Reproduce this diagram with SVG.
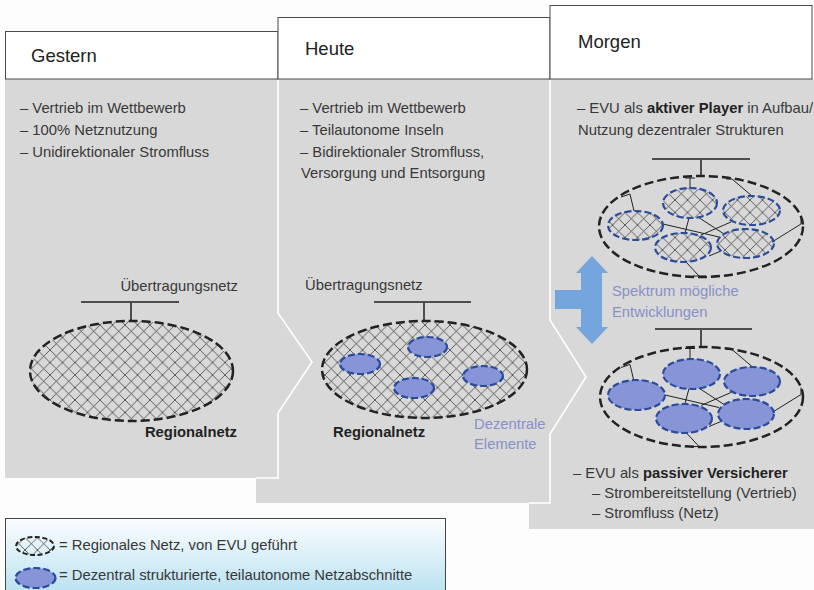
<svg xmlns="http://www.w3.org/2000/svg" width="814" height="590" viewBox="0 0 814 590">
<style>
text{font-family:"Liberation Sans",Arial,sans-serif;font-size:14.8px;fill:#383838}
.ht{font-size:18.5px;fill:#222}
.b{font-weight:bold;fill:#222}
.bl{fill:#8791c6}
.hdr{fill:#fff;stroke:#4a4a4a;stroke-width:1}
.sep{fill:none;stroke:#fff;stroke-width:1.6}
.net{fill:url(#hatch);stroke:#222;stroke-width:2.5;stroke-dasharray:9 4}
.big{fill:none;stroke:#222;stroke-width:2.5;stroke-dasharray:9 4}
.dez{fill:#8795d8;stroke:#2b4b9b;stroke-width:2.2;stroke-dasharray:7 3}
.dezh{fill:url(#hatch);stroke:#2b4b9b;stroke-width:2.2;stroke-dasharray:7 3}
.tl{fill:none;stroke:#4d4d4d;stroke-width:2}
.lk{fill:none;stroke:#222;stroke-width:1}
</style>
<defs>
<pattern id="hatch" patternUnits="userSpaceOnUse" width="12.5" height="12.5">
<path d="M0,0 L12.5,12.5 M12.5,0 L0,12.5" stroke="#333" stroke-width="0.75"/>
</pattern>
<linearGradient id="lg" x1="0" y1="0" x2="0" y2="1">
<stop offset="0" stop-color="#fbfdfe"/>
<stop offset="1" stop-color="#b5e0ef"/>
</linearGradient>
<g id="mlinks" class="lk">
<path d="M621,197 L630,194 L634,211 M685,178 L695,178 M690,178 L690,188 M726,179 L732,179 L752,196 M772,242 L801,224 L801,217 M686,262 L699,276 M693,276 L706,276 M663,224 L719,237 M689,218 L685,233 M698,217 L724,234 M701,235 L731,222 M709,256 L721,251"/>
</g>
</defs>

<rect x="0" y="0" width="814" height="590" fill="#fdfdfd"/>

<g id="panels">
<polygon points="5,79 814,79 814,529 529,529 529,503 256,503 256,478 5,478" fill="#d8d8d8"/>
<polyline class="sep" points="278,79 278,313 312,362 278,413 278,478 256,478"/>
<polyline class="sep" points="550,79 550,320 586,377 550,434 550,503 529,503"/>
</g>

<g id="header-gestern">
<rect class="hdr" x="5.5" y="31.5" width="272.5" height="47.5"/>
<text class="ht" x="31" y="62">Gestern</text>
</g>
<g id="header-heute">
<rect class="hdr" x="278" y="17.5" width="272" height="61.5"/>
<text class="ht" x="305" y="55">Heute</text>
</g>
<g id="header-morgen">
<rect class="hdr" x="550" y="5.5" width="262" height="73.5"/>
<text class="ht" x="578" y="48">Morgen</text>
</g>

<g id="text-gestern">
<text x="20" y="113">– Vertrieb im Wettbewerb</text>
<text x="20" y="135">– 100% Netznutzung</text>
<text x="20" y="157">– Unidirektionaler Stromfluss</text>
</g>
<g id="text-heute">
<text x="300" y="113">– Vertrieb im Wettbewerb</text>
<text x="300" y="135">– Teilautonome Inseln</text>
<text x="300" y="157">– Bidirektionaler Stromfluss,</text>
<text x="301" y="178">Versorgung und Entsorgung</text>
</g>
<g id="text-morgen">
<text x="577" y="113">– EVU als <tspan class="b">aktiver Player</tspan> in Aufbau/</text>
<text x="578" y="135">Nutzung dezentraler Strukturen</text>
<text x="573" y="478">– EVU als <tspan class="b">passiver Versicherer</tspan></text>
<text x="592" y="498">– Strombereitstellung (Vertrieb)</text>
<text x="592" y="518">– Stromfluss (Netz)</text>
</g>

<g id="connectors">
<path class="tl" d="M81,302 H179 M131,302 V321"/>
<path class="tl" d="M374,302 H471 M424,302 V321"/>
<path class="tl" d="M652,159 H750 M701,159 V176"/>
<path class="tl" d="M655,329 H752 M701,329 V347"/>
<use href="#mlinks"/>
<use href="#mlinks" transform="translate(0,170.5)"/>
</g>

<g id="node-gestern-netz">
<ellipse class="net" cx="131.5" cy="371" rx="101.5" ry="50"/>
<text x="238" y="291" text-anchor="end">Übertragungsnetz</text>
<text class="b" x="237" y="437" text-anchor="end">Regionalnetz</text>
</g>

<g id="node-heute-netz">
<ellipse class="net" cx="424.5" cy="369.5" rx="102.5" ry="48.5"/>
<ellipse class="dez" cx="360" cy="364" rx="20" ry="10"/>
<ellipse class="dez" cx="427.5" cy="347" rx="19.5" ry="10"/>
<ellipse class="dez" cx="414" cy="388" rx="20" ry="10"/>
<ellipse class="dez" cx="483" cy="376" rx="20" ry="10"/>
<text x="305" y="290">Übertragungsnetz</text>
<text class="b" x="333" y="437">Regionalnetz</text>
<text class="bl" x="474" y="429">Dezentrale</text>
<text class="bl" x="474" y="449">Elemente</text>
</g>

<g id="node-morgen-aktiv">
<ellipse class="big" cx="701" cy="226.5" rx="102" ry="50.5"/>
<ellipse class="dezh" cx="635.5" cy="225.5" rx="27.5" ry="14.5"/>
<ellipse class="dezh" cx="690" cy="203" rx="27" ry="15"/>
<ellipse class="dezh" cx="751.5" cy="210.5" rx="28.5" ry="14.5"/>
<ellipse class="dezh" cx="683" cy="247.5" rx="28" ry="14.5"/>
<ellipse class="dezh" cx="745.5" cy="243.5" rx="28.5" ry="14.5"/>
</g>

<g id="node-spektrum">
<polygon points="592,256 608,273 602,273 602,327 608,327 592,344 576,327 581,327 581,309 555,309 555,290 581,290 581,273 576,273" fill="#74a6dd"/>
<text class="bl" x="612" y="296">Spektrum mögliche</text>
<text class="bl" x="612" y="317">Entwicklungen</text>
</g>

<g id="node-morgen-passiv">
<ellipse class="big" cx="701.5" cy="397" rx="101.5" ry="50"/>
<ellipse class="dez" cx="636.5" cy="395" rx="28.5" ry="15"/>
<ellipse class="dez" cx="691.5" cy="374" rx="28.5" ry="15"/>
<ellipse class="dez" cx="752" cy="381.5" rx="28" ry="14.5"/>
<ellipse class="dez" cx="684" cy="418.5" rx="28" ry="14.5"/>
<ellipse class="dez" cx="746" cy="414" rx="28" ry="15"/>
</g>

<g id="legend">
<rect x="5.5" y="518.5" width="440" height="80" fill="url(#lg)" stroke="#444" stroke-width="1"/>
<ellipse cx="35" cy="546" rx="19" ry="9" fill="url(#hatch)" stroke="#222" stroke-width="2" stroke-dasharray="5 2.5"/>
<text x="59" y="550">= Regionales Netz, von EVU geführt</text>
<ellipse cx="35.5" cy="578" rx="20" ry="10" class="dez"/>
<text x="59" y="580">= Dezentral strukturierte, teilautonome Netzabschnitte</text>
</g>
</svg>
